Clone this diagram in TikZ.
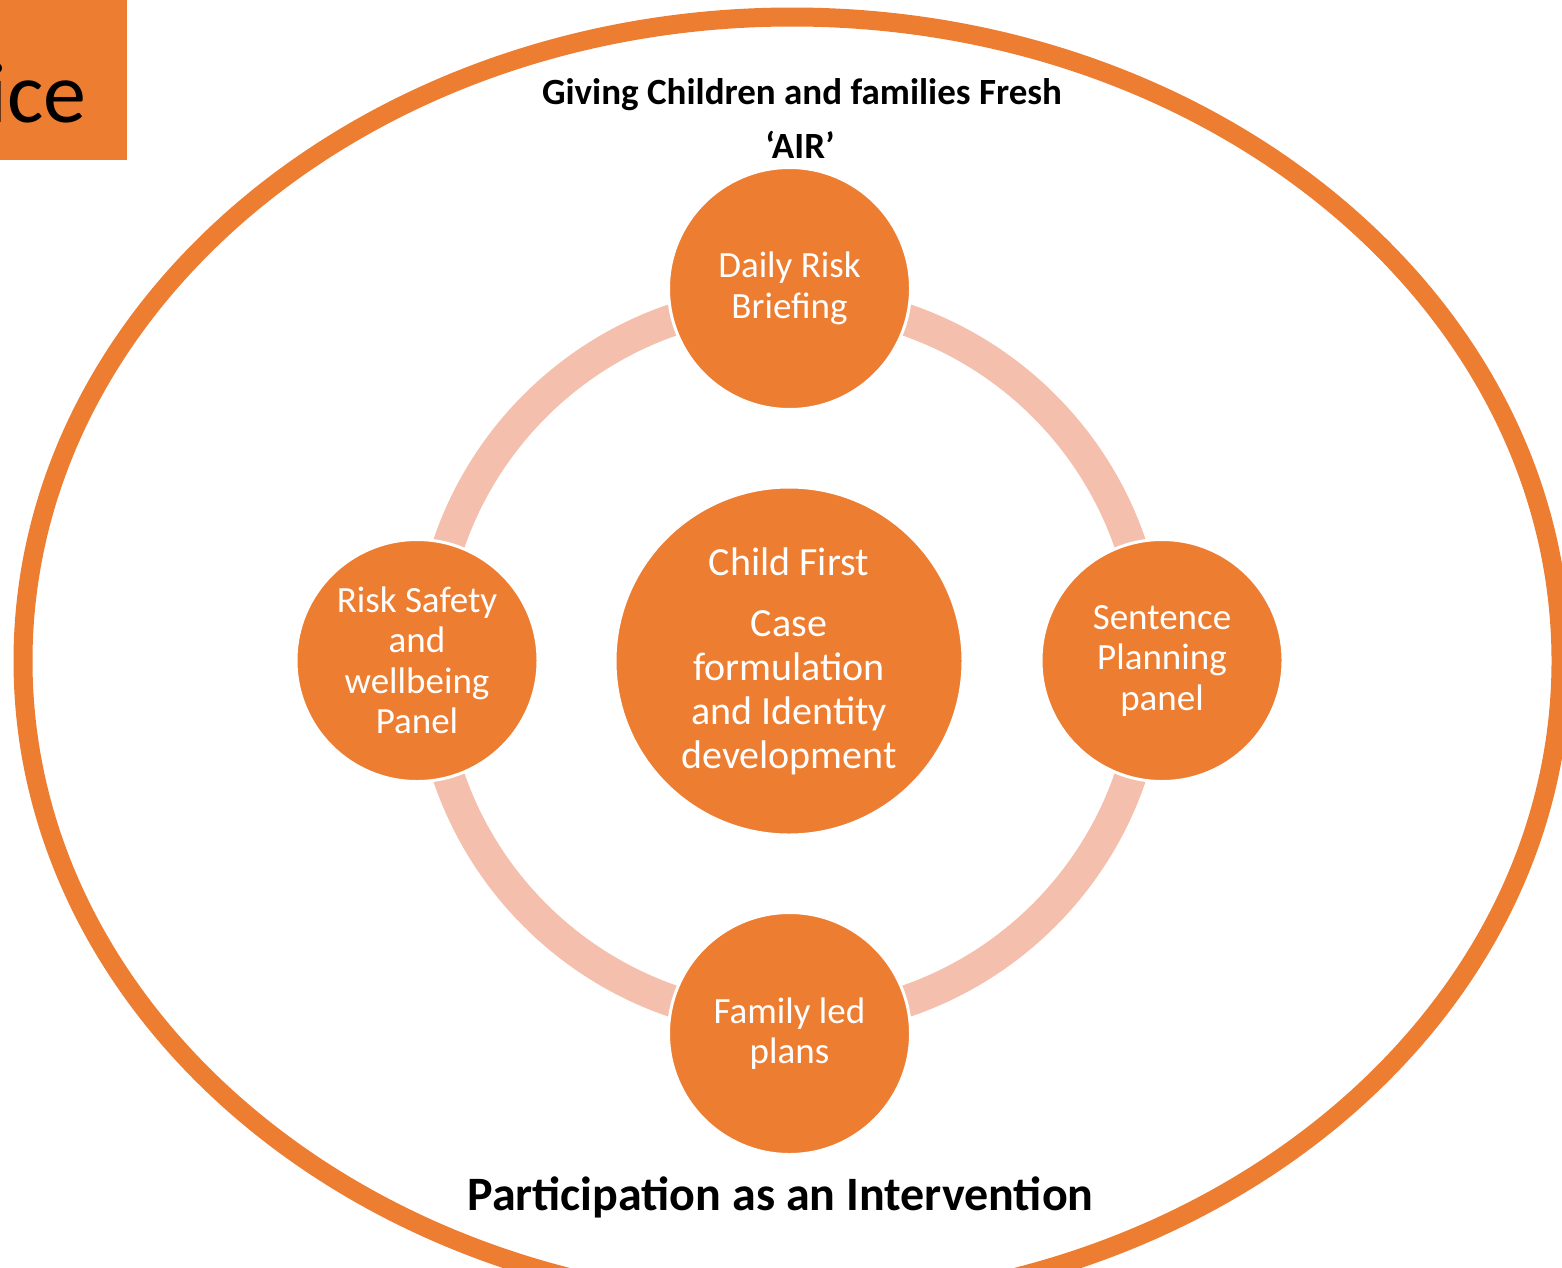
\documentclass[tikz,border=0pt]{standalone}
\usepackage{fontspec}
\setmainfont{Carlito}
\definecolor{accent}{HTML}{ED7D31}
\definecolor{ringpink}{HTML}{F4BFAD}

\begin{document}
\begin{tikzpicture}[x=1pt, y=-1pt, every node/.style={inner sep=0pt},
                    stage/.style={circle, fill=accent, draw=white,
                                  line width=3pt, minimum size=242pt,
                                  text=white, align=center,
                                  font=\fontsize{37}{40.5}\selectfont}]
  \clip (0,0) rectangle (1562,1267);
  % corner tab and outer ellipse
  \fill[accent] (0,0) rectangle (127,160);
  \node[anchor=base east, font=\fontsize{86}{90}\selectfont] (tab) at (87,122) {ice};
  \draw[accent, line width=19pt] (792,661) ellipse [x radius=769pt, y radius=644pt];

  \node[anchor=base, font=\fontsize{37}{44}\bfseries] (title) at (802,104)
    {Giving Children and families Fresh};
  \node[anchor=base, font=\fontsize{37}{44}\bfseries] (air) at (800,158) {‘AIR’};

  % cycle
  \draw[ringpink, line width=32pt] (789.5,660.5) circle [radius=360pt];
  \foreach \name/\x/\y/\txt in {brief/789.5/288.5/{Daily Risk\\Briefing},
          sentence/1162/660.5/{Sentence\\Planning\\panel},
          family/789.5/1033.5/{Family led\\plans},
          safety/417/660.5/{Risk Safety\\and\\wellbeing\\Panel}} {
      \node[stage] (\name) at (\x,\y) {\txt};
  }
  \node[stage, minimum size=348pt, font=\fontsize{40}{44}\selectfont] (core) at (789,661)
    {Child First\\[17pt]Case\\formulation\\and Identity\\development};

  \node[anchor=base, font=\fontsize{48}{56}\bfseries] (participation) at (780.5,1210)
    {Participation as an Intervention};
\end{tikzpicture}
\end{document}
